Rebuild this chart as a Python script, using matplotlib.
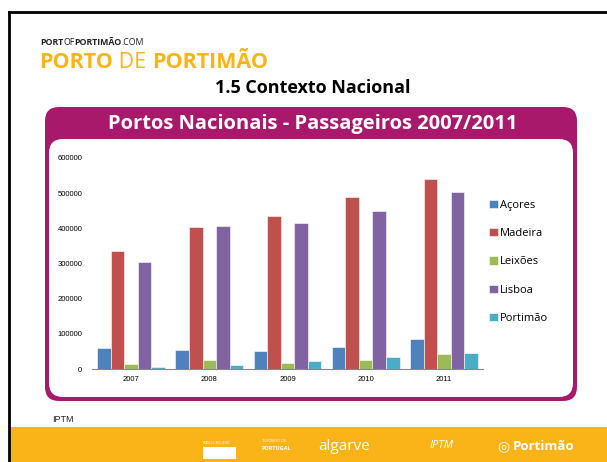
import matplotlib.pyplot as plt
from matplotlib.patches import FancyBboxPatch, Rectangle
import numpy as np

# Data (passengers per port and year)
years = ["2007", "2008", "2009", "2010", "2011"]
ports = ["Açores", "Madeira", "Leixões", "Lisboa", "Portimão"]
acores = [59000, 55000, 51000, 61500, 85000]
madeira = [336000, 403000, 435000, 490000, 540000]
leixoes = [14000, 25000, 17000, 26500, 41500]
lisboa = [303000, 406000, 415000, 448000, 502000]
portimao = [5000, 10000, 23500, 33000, 44500]
yticks = [0, 100000, 200000, 300000, 400000, 500000, 600000]

colors = ["#4F81BD", "#C0504D", "#9BBB59", "#8064A2", "#4BACC6"]
magenta = "#A8196B"
orange = "#FBB417"
FONT = "Open Sans"

W, H = 607, 462
fig = plt.figure(figsize=(W / 100, H / 100), dpi=100)
fig.patch.set_facecolor("white")

# Background layer in pixel coordinates (y going down)
bg = fig.add_axes([0, 0, 1, 1], zorder=0)
bg.set_xlim(0, W)
bg.set_ylim(H, 0)
bg.axis("off")

# slide frame
bg.plot([9, W], [12, 12], color="black", lw=2)
bg.plot([9, 9], [12, H], color="black", lw=2)

# orange footer
bg.add_patch(Rectangle((10, 427), W - 10, H - 427, facecolor=orange, edgecolor="none"))

# header logo text
t = bg.text(40, 45, "PORT", fontsize=6.3, fontweight="bold", family=FONT,
            color="#222222", va="baseline")
t = bg.annotate("OF", xycoords=t, xy=(1, 0), fontsize=6.3, family=FONT,
                color="#222222", va="bottom")
t = bg.annotate("PORTIMÃO", xycoords=t, xy=(1, 0), fontsize=6.3, fontweight="bold",
                family=FONT, color="#222222", va="bottom")
bg.annotate(".COM", xycoords=t, xy=(1, 0), fontsize=6.3, family=FONT,
            color="#222222", va="bottom")

t = bg.text(39, 68, "PORTO", fontsize=15.5, fontweight="bold", family=FONT,
            color=orange, va="baseline")
t = bg.annotate(" DE ", xycoords=t, xy=(1, 0), fontsize=15.5, family=FONT,
                color=orange, va="bottom")
bg.annotate("PORTIMÃO", xycoords=t, xy=(1, 0), fontsize=15.5, fontweight="bold",
            family=FONT, color=orange, va="bottom")

bg.text(313, 88, "1.5 Contexto Nacional", fontsize=13, fontweight="bold",
        family=FONT, color="black", ha="center", va="center")

# magenta frame with title band and white inner box
bg.add_patch(FancyBboxPatch((45, 107), 532, 294,
                            boxstyle="round,pad=0,rounding_size=14",
                            facecolor=magenta, edgecolor="none"))
bg.add_patch(FancyBboxPatch((49, 139), 524, 258,
                            boxstyle="round,pad=0,rounding_size=14",
                            facecolor="white", edgecolor="none"))
bg.text(313, 124, "Portos Nacionais - Passageiros 2007/2011", fontsize=14.5,
        fontweight="bold", family=FONT, color="white", ha="center", va="center")

# source + footer logos
bg.text(52, 422, "IPTM", fontsize=6.5, family="Liberation Sans", color="#222222",
        va="baseline")
bg.text(203, 443, "MEDCRUISE", fontsize=3.5, family="Liberation Serif", color="white",
        va="center")
bg.add_patch(Rectangle((203, 447), 33, 12, facecolor="white", edgecolor="none"))
bg.text(262, 441, "TURISMO DE", fontsize=3, family=FONT, color="white", va="center")
bg.text(262, 448, "PORTUGAL", fontsize=4, fontweight="bold", family=FONT,
        color="white", va="center")
bg.text(318, 446, "algarve", fontsize=11, family=FONT, color="white", va="center")
bg.text(430, 446, "IPTM", fontsize=8, family=FONT, fontstyle="italic",
        color="white", va="center")
bg.text(497, 446, "◎", fontsize=10, family="DejaVu Sans", color="white", va="center")
bg.text(513, 446, "Portimão", fontsize=9.5, fontweight="bold", family=FONT,
        color="white", va="center")

# chart axes
ax = fig.add_axes([92 / W, 1 - 369 / H, 391 / W, 211 / H], zorder=1)
ax.patch.set_alpha(0)

series = [acores, madeira, leixoes, lisboa, portimao]
x = np.arange(len(years))
bw = 0.173
for i, (vals, name) in enumerate(zip(series, ports)):
    ax.bar(x + (i - 2) * bw, vals, width=bw, color=colors[i], edgecolor="white",
           linewidth=0.4, label=name)

ax.set_xlim(-0.5, len(years) - 0.5)
ax.set_ylim(0, 600000)
ax.set_yticks(yticks)
ax.set_yticklabels([str(v) for v in yticks], fontsize=5.5, family="Liberation Sans")
ax.set_xticks(x)
ax.set_xticklabels(years, fontsize=5.5, family="Liberation Sans")
ax.tick_params(length=0, pad=7)
ax.tick_params(axis="x", pad=5)
for s in ["top", "right", "left"]:
    ax.spines[s].set_visible(False)
ax.spines["bottom"].set_color("#888888")

ax.legend(loc="upper left", bbox_to_anchor=(0.99, 0.85), frameon=False,
          prop={"family": FONT, "size": 8}, handlelength=0.8, handleheight=0.8,
          handletextpad=0.2, labelspacing=1.55)

fig.savefig("out.png", dpi=100)
